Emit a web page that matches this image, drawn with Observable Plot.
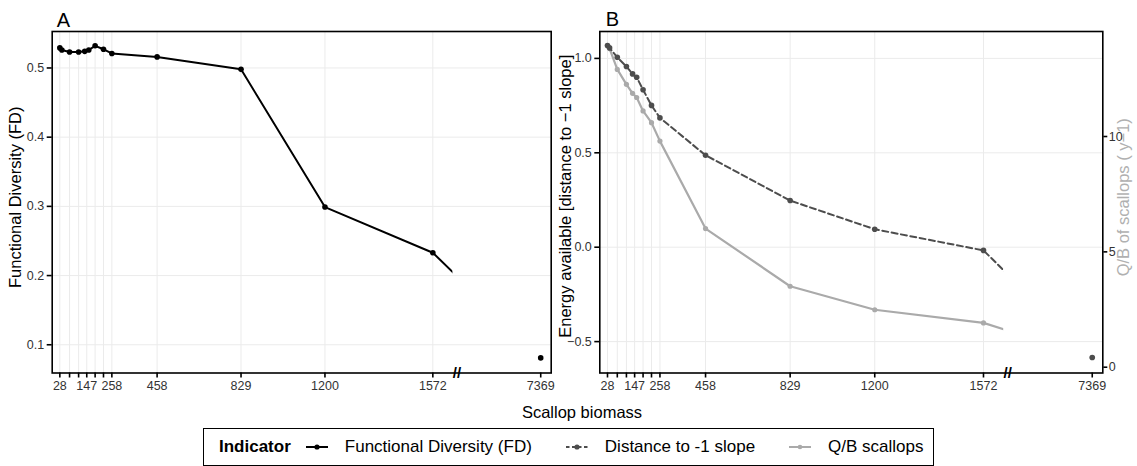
<!DOCTYPE html>
<html>
<head>
<meta charset="utf-8">
<script src="https://cdn.jsdelivr.net/npm/d3@7"></script>
<script src="https://cdn.jsdelivr.net/npm/@observablehq/plot@0.6"></script>
<style>
  body { margin: 0; background: #fff; font-family: "Liberation Sans", Arial, sans-serif; }
  #wrap { position: relative; width: 1137px; height: 466px; overflow: hidden; background: #fff; }
  .panel { position: absolute; top: 0; }
  #xtitle { position: absolute; left: 0; width: 1164px; top: 402px; text-align: center; font-size: 16.5px; color: #000; line-height: 20px; }
  #legend { position: absolute; left: 203px; top: 427.5px; width: 731px; height: 38px; box-sizing: border-box;
            border: 1.2px solid #000; display: flex; align-items: center; font-size: 17px; color: #000; padding-left: 15px; }
  #legend b { font-weight: bold; margin-right: 15px; }
  #legend .key { display: inline-block; width: 22px; height: 12px; margin-right: 17px; }
  #legend .key svg { display: block; }
</style>
</head>
<body>
<div id="wrap">
  <div id="panelA" class="panel" style="left:0px"></div>
  <div id="panelB" class="panel" style="left:552px"></div>
  <div id="xtitle">Scallop biomass</div>
  <div id="legend"></div>
</div>
<script>
// ---------------- data ----------------
const biomass = [28, 37, 71, 111, 138, 156, 184, 221, 258, 458, 829, 1200, 1572, 7369];
const functionalDiversity = [0.529, 0.526, 0.523, 0.523, 0.524, 0.526, 0.532, 0.527, 0.521, 0.516, 0.498, 0.299, 0.233, 0.081];
const distanceToSlope = [1.068, 1.056, 1.006, 0.957, 0.918, 0.900, 0.834, 0.751, 0.685, 0.487, 0.247, 0.095, -0.017, -0.584];
const qbScallops = [13.94, 13.81, 12.91, 12.26, 11.87, 11.69, 11.11, 10.60, 9.80, 6.01, 3.51, 2.49, 1.92, 0.42];

const xTicks = [28, 71, 111, 147, 184, 221, 258, 458, 829, 1200, 1572, 7369];
const xTickLabels = [28, 147, 258, 458, 829, 1200, 1572, 7369];
const fdTicks = [0.1, 0.2, 0.3, 0.4, 0.5];
const energyTicks = [-0.5, 0.0, 0.5, 1.0];
const qbTicks = [0, 5, 10];

const seriesNames = ["Functional Diversity (FD)", "Distance to -1 slope", "Q/B scallops"];

// ---------------- scale settings (broken x axis) ----------------
const xStops = [28, 1200, 1572, 7369];
const xStopFrac = [0.0153, 0.5466, 0.7628, 0.979];
const breakFrac = 0.811;
const lineEndFrac = 0.802;
const fdDomain = [0.0592, 0.5527];
const energyDomain = [-0.6663, 1.1425];
const qbToEnergy = q => 0.12219 * q - 0.6356;
const energyToQb = v => (v + 0.6356) / 0.12219;

const fracToValue = d3.scaleLinear().domain(xStopFrac).range(xStops);
const breakValue = fracToValue(breakFrac);

const dataA = biomass.map((b, i) => ({biomass: b, value: functionalDiversity[i]}));
const dataDist = biomass.map((b, i) => ({biomass: b, value: distanceToSlope[i]}));
const dataQB = biomass.map((b, i) => ({biomass: b, value: qbToEnergy(qbScallops[i])}));

const gridColor = "#ebebeb";
const tickText = "#333333";
const H = 400, MT = 31, MB = H - 372.5;
const titleSize = 16.5;

function xScale(ml, w, mr) {
  const fw = w - ml - mr;
  return {type: "linear", domain: xStops, range: xStopFrac.map(f => ml + f * fw)};
}

function commonAxes() {
  return [
    Plot.axisX(xTicks, {
      tickSize: 5, tickPadding: 3.5, fontSize: 12.5, stroke: "#000", strokeWidth: 1.6, fill: tickText,
      tickFormat: d => xTickLabels.includes(d) ? String(d) : "", label: null
    }),
    Plot.text([breakValue], {x: d => d, frameAnchor: "bottom", text: () => "//", fontSize: 15,
      fontWeight: "bold", fill: "#000", lineAnchor: "middle", dy: 0})
  ];
}

function clipLines(svg, id, ml, w, mr) {
  const fw = w - ml - mr;
  const clipX = ml + lineEndFrac * fw;
  const ns = "http://www.w3.org/2000/svg";
  const defs = document.createElementNS(ns, "defs");
  const cp = document.createElementNS(ns, "clipPath");
  cp.setAttribute("id", id);
  const rect = document.createElementNS(ns, "rect");
  rect.setAttribute("x", 0); rect.setAttribute("y", 0);
  rect.setAttribute("width", clipX); rect.setAttribute("height", H);
  cp.appendChild(rect); defs.appendChild(cp);
  svg.insertBefore(defs, svg.firstChild);
  svg.querySelectorAll('g[aria-label="line"]').forEach(g => g.setAttribute("clip-path", `url(#${id})`));
}

// ---------------- Panel A ----------------
{
  const W = 552, ML = 51.7, MR = 1.3;
  const svg = Plot.plot({
    width: W, height: H, marginLeft: ML, marginRight: MR, marginTop: MT, marginBottom: MB,
    style: {background: "transparent", fontFamily: "'Liberation Sans', Arial, sans-serif", overflow: "visible"},
    x: xScale(ML, W, MR),
    y: {domain: fdDomain},
    marks: [
      Plot.ruleY(fdTicks, {stroke: gridColor, strokeWidth: 1}),
      Plot.ruleX(xTicks.filter(d => d !== 7369), {stroke: gridColor, strokeWidth: 1}),
      Plot.line(dataA, {x: "biomass", y: "value", stroke: "#000", strokeWidth: 2}),
      Plot.dot(dataA, {x: "biomass", y: "value", r: 2.8, fill: "#000"}),
      Plot.frame({stroke: "#000", strokeWidth: 1.6}),
      ...commonAxes(),
      Plot.axisY(fdTicks, {tickSize: 5, tickPadding: 3, fontSize: 12.5, stroke: "#000", strokeWidth: 1.6,
        fill: tickText, tickFormat: d3.format(".1f"), label: null}),
      Plot.text(["A"], {frameAnchor: "top-left", text: d => d, fontSize: 20, lineAnchor: "bottom", dx: 4.5, dy: -5, fill: "#000"}),
      Plot.text(["Functional Diversity (FD)"], {frameAnchor: "left", text: d => d, rotate: -90, textAnchor: "middle",
        fontSize: titleSize, dx: -36, dy: -5, fill: "#000"})
    ]
  });
  clipLines(svg, "clipA", ML, W, MR);
  document.getElementById("panelA").appendChild(svg);
}

// ---------------- Panel B ----------------
{
  const W = 585, ML = 47.3, MR = 34.7;
  const svg = Plot.plot({
    width: W, height: H, marginLeft: ML, marginRight: MR, marginTop: MT, marginBottom: MB,
    style: {background: "transparent", fontFamily: "'Liberation Sans', Arial, sans-serif", overflow: "visible"},
    x: xScale(ML, W, MR),
    y: {domain: energyDomain},
    marks: [
      Plot.ruleY(energyTicks, {stroke: gridColor, strokeWidth: 1}),
      Plot.ruleX(xTicks.filter(d => d !== 7369), {stroke: gridColor, strokeWidth: 1}),
      Plot.line(dataQB, {x: "biomass", y: "value", stroke: "#aaaaaa", strokeWidth: 2.2}),
      Plot.dot(dataQB, {x: "biomass", y: "value", r: 2.6, fill: "#aaaaaa"}),
      Plot.line(dataDist, {x: "biomass", y: "value", stroke: "#4d4d4d", strokeWidth: 2, strokeDasharray: "6,3.5"}),
      Plot.dot(dataDist, {x: "biomass", y: "value", r: 2.8, fill: "#4d4d4d"}),
      Plot.frame({stroke: "#000", strokeWidth: 1.6}),
      ...commonAxes(),
      Plot.axisY(energyTicks, {tickSize: 5, tickPadding: 3, fontSize: 12.5, stroke: "#000", strokeWidth: 1.6,
        fill: tickText, tickFormat: d3.format(".1f"), label: null}),
      Plot.axisY(qbTicks.map(qbToEnergy), {anchor: "right", tickSize: 4, tickPadding: 2, fontSize: 12.5, stroke: "#000",
        strokeWidth: 1.6, fill: tickText, tickFormat: d => String(Math.round(energyToQb(d))), label: null}),
      Plot.text(["B"], {frameAnchor: "top-left", text: d => d, fontSize: 20, lineAnchor: "bottom", dx: 6, dy: -6, fill: "#000"}),
      Plot.text(["Energy available [distance to \u22121 slope]"], {frameAnchor: "left", text: d => d, rotate: -90,
        textAnchor: "middle", fontSize: titleSize, dx: -34.3, dy: -6, fill: "#000"}),
      Plot.text(["Q/B of scallops ( y\u22121)"], {frameAnchor: "right", text: d => d, rotate: -90,
        textAnchor: "middle", fontSize: titleSize, dx: 21, dy: -5, fill: "#b0b0b0"})
    ]
  });
  clipLines(svg, "clipB", ML, W, MR);
  document.getElementById("panelB").appendChild(svg);
}

// ---------------- Legend ----------------
{
  const legend = document.getElementById("legend");
  const styles = [
    {stroke: "#000", dash: null, r: 2.6},
    {stroke: "#4d4d4d", dash: "3.5,2.5", r: 2.6},
    {stroke: "#aaaaaa", dash: null, r: 2.3}
  ];
  let html = '<b>Indicator</b>';
  seriesNames.forEach((name, i) => {
    const s = styles[i];
    html += `<span class="key" style="margin-left:${i === 0 ? 0 : 34}px"><svg width="22" height="12">` +
      `<line x1="0" x2="22" y1="6" y2="6" stroke="${s.stroke}" stroke-width="2" ${s.dash ? `stroke-dasharray="${s.dash}"` : ""}/>` +
      `<circle cx="11" cy="6" r="${s.r}" fill="${s.stroke}"/></svg></span><span>${name}</span>`;
  });
  legend.innerHTML = html;
}
</script>
</body>
</html>
